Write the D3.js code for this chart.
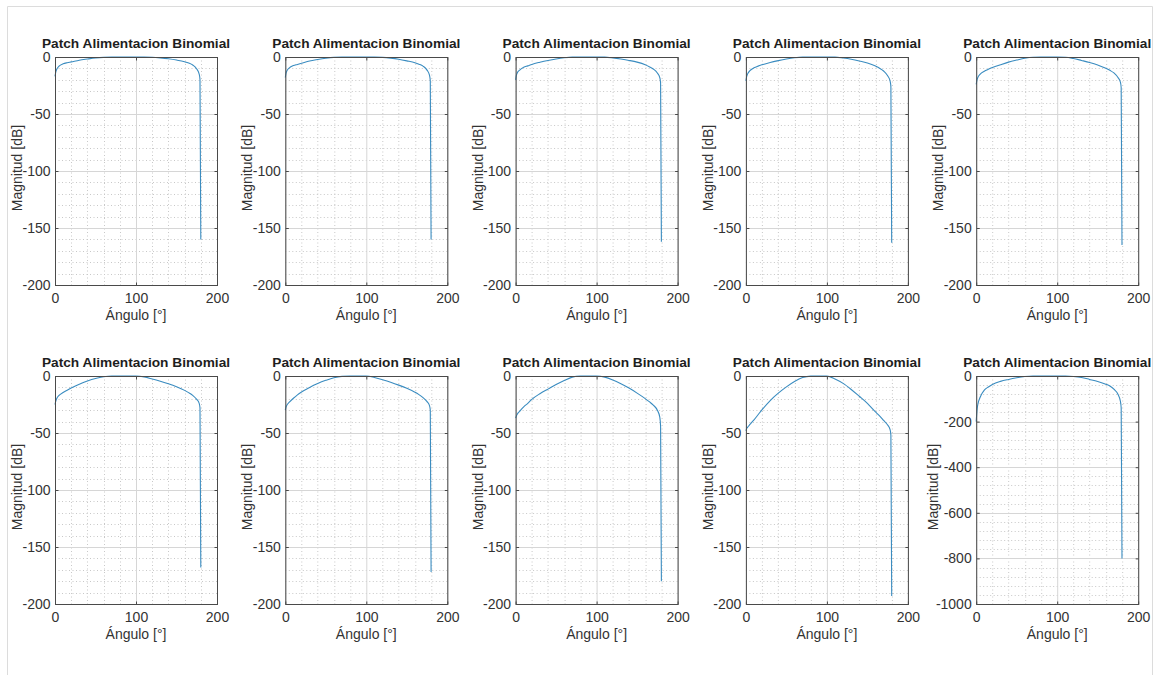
<!DOCTYPE html>
<html>
<head>
<meta charset="utf-8">
<script src="https://cdn.jsdelivr.net/npm/d3@7"></script>
<style>
  html, body { margin: 0; padding: 0; background: #ffffff; }
  svg { display: block; font-family: "Liberation Sans", Arial, Helvetica, sans-serif; }
</style>
</head>
<body>
<svg id="chart" width="1159" height="675"></svg>
<script>
// ---------------- data ----------------
const chartTitle = "Patch Alimentacion Binomial";
const xLabel = "Ángulo [°]";
const yLabel = "Magnitud [dB]";

const angulos = [0, 1, 2, 5, 10, 15, 20, 30, 40, 50, 60, 70, 80, 90, 100, 110, 120, 130, 140, 150, 160, 165, 170, 175, 178, 179, 180];

const panel1  = [-17, -13, -11, -8, -6, -5, -4.3, -2.8, -1.8, -0.9, -0.3, 0, 0, 0, 0, 0, -0.2, -0.8, -1.6, -2.7, -4.2, -5.3, -7, -10.5, -15, -20, -160];
const panel2  = [-18, -14, -12, -9.5, -7.5, -6.5, -5.5, -3.5, -2.2, -1.1, -0.3, 0, 0, 0, 0, 0, -0.3, -1, -2, -3.4, -5, -6.3, -8, -11.5, -16, -21, -160];
const panel3  = [-20, -16, -14, -11.5, -9, -7.8, -6.5, -4.6, -3, -1.7, -0.7, -0.1, 0, 0, 0, -0.1, -0.8, -1.8, -3, -4.5, -6.8, -8.5, -10.5, -14, -18, -23, -162];
const panel4  = [-21, -17, -15, -12, -9.5, -8, -6.8, -4.8, -3.2, -1.8, -0.7, -0.1, 0, 0, 0, -0.1, -0.9, -2, -3.5, -5.3, -8, -9.8, -12.3, -16.5, -21, -26, -163];
const panel5  = [-24, -20, -18, -15, -12.5, -10.8, -9.3, -6.8, -4.5, -2.7, -1.1, -0.2, 0, 0, 0, -0.2, -1.3, -3, -4.8, -7, -9.8, -11.7, -14, -18, -22, -27, -165];
const panel6  = [-25, -22, -20, -17, -14.5, -12.5, -10.6, -7.2, -4.4, -2.2, -0.7, 0, 0, 0, 0, -0.8, -2.6, -4.6, -6.8, -9.4, -12.6, -14.6, -17, -20.5, -24, -28, -168];
const panel7  = [-30, -27, -25.5, -23, -19.5, -16.5, -14, -10, -6.6, -3.8, -1.5, -0.3, 0, 0, 0, -1.3, -3.3, -5.5, -8, -10.8, -14.2, -16.3, -19, -22.5, -26, -30, -172];
const panel8  = [-37, -35, -33.5, -31, -27, -24, -20.5, -15.5, -11.5, -7.5, -4, -1, 0, 0, 0, -1, -3.5, -6.8, -10.6, -15, -19.8, -22.5, -25.5, -30, -36, -44, -180];
const panel9  = [-48, -46, -45, -42.5, -38.5, -34, -29.5, -21.5, -15, -9.5, -4.8, -1.4, -0.1, 0, -0.1, -2.6, -6.5, -11.8, -17.8, -24, -31.5, -35, -39, -43, -47, -52, -193];
const panel10 = [-200, -150, -125, -92, -62, -48, -37, -23.5, -15, -8, -2.5, 0, 0, 0, 0, 0, -2, -6.5, -15, -24, -36, -44, -58, -80, -110, -140, -800];

const panels = [panel1, panel2, panel3, panel4, panel5, panel6, panel7, panel8, panel9, panel10];

const xTicks = [0, 100, 200];
const yTicksDb = [-200, -150, -100, -50, 0];
const yTicksDbWide = [-1000, -800, -600, -400, -200, 0];
const yDomains = [[-200, 0], [-200, 0], [-200, 0], [-200, 0], [-200, 0],
                  [-200, 0], [-200, 0], [-200, 0], [-200, 0], [-1000, 0]];

// ---------------- layout ----------------
const svg = d3.select("#chart");
svg.append("rect").attr("width", 1159).attr("height", 675).attr("fill", "#ffffff");

// outer window frame
svg.append("path")
  .attr("d", "M7.5,675 L7.5,6.5 L1152.5,6.5 L1152.5,675")
  .attr("fill", "none").attr("stroke", "#dcdcdc").attr("stroke-width", 1);

const colLeft0 = 55, colStep = 230.3, plotW = 162;
const rowTops = [57, 376], plotH = 228;

const lineColor = "#3a8cc0";
const axisColor = "#4a4a4a";
const textColor = "#333333";
const fmt = d => String(d);

panels.forEach((vals, i) => {
  const row = Math.floor(i / 5), col = i % 5;
  const left = colLeft0 + col * colStep;
  const top = rowTops[row];
  const g = svg.append("g").attr("transform", `translate(${left},${top})`);

  const x = d3.scaleLinear().domain([0, 200]).range([0, plotW]);
  const y = d3.scaleLinear().domain(yDomains[i]).range([plotH, 0]);
  const yTickVals = yDomains[i][0] === -1000 ? yTicksDbWide : yTicksDb;
  const yMajorStep = yTickVals[1] - yTickVals[0];
  const yMinorStep = yMajorStep / 5;

  // minor grid
  const xMinor = d3.range(0, 200.001, 20).filter(v => v % 100 !== 0);
  const yMinor = d3.range(yDomains[i][0], 0.001, yMinorStep).filter(v => Math.abs(v % yMajorStep) > 1e-6);
  g.append("g").selectAll("line").data(xMinor).join("line")
    .attr("x1", d => Math.round(x(d)) + 0.5).attr("x2", d => Math.round(x(d)) + 0.5)
    .attr("y1", 0).attr("y2", plotH)
    .attr("stroke", "#c8c8c8").attr("stroke-width", 1).attr("stroke-dasharray", "1,2.5");
  g.append("g").selectAll("line").data(yMinor).join("line")
    .attr("y1", d => Math.round(y(d)) + 0.5).attr("y2", d => Math.round(y(d)) + 0.5)
    .attr("x1", 0).attr("x2", plotW)
    .attr("stroke", "#c8c8c8").attr("stroke-width", 1).attr("stroke-dasharray", "1,2.5");

  // major grid
  g.append("g").selectAll("line").data(xTicks).join("line")
    .attr("x1", d => Math.round(x(d)) + 0.5).attr("x2", d => Math.round(x(d)) + 0.5)
    .attr("y1", 0).attr("y2", plotH)
    .attr("stroke", "#d6d6d6").attr("stroke-width", 1);
  g.append("g").selectAll("line").data(yTickVals).join("line")
    .attr("y1", d => Math.round(y(d)) + 0.5).attr("y2", d => Math.round(y(d)) + 0.5)
    .attr("x1", 0).attr("x2", plotW)
    .attr("stroke", "#d6d6d6").attr("stroke-width", 1);

  // data line
  const pts = angulos.map((a, k) => [a, vals[k]]);
  const line = d3.line().x(d => x(d[0])).y(d => y(d[1])).curve(d3.curveMonotoneX);
  g.append("path").datum(pts)
    .attr("d", line)
    .attr("fill", "none").attr("stroke", lineColor).attr("stroke-width", 1.1);

  // axes box
  g.append("rect").attr("x", 0.5).attr("y", 0.5).attr("width", plotW).attr("height", plotH)
    .attr("fill", "none").attr("stroke", axisColor).attr("stroke-width", 1);

  // axes with inward ticks
  const styleAxis = sel => {
    sel.select(".domain").remove();
    sel.selectAll(".tick line").attr("stroke", axisColor);
    sel.selectAll(".tick text").attr("fill", textColor)
      .style("font-size", "14px").style("font-family", "'Liberation Sans', Arial, sans-serif");
  };
  g.append("g").attr("transform", `translate(0.5,0)`)
    .call(d3.axisLeft(y).tickValues(yTickVals).tickFormat(fmt).tickSizeInner(-3).tickSizeOuter(0).tickPadding(5))
    .call(styleAxis);
  g.append("g").attr("transform", `translate(${plotW + 0.5},0)`)
    .call(d3.axisRight(y).tickValues(yTickVals).tickSizeInner(-3).tickSizeOuter(0).tickFormat(""))
    .call(styleAxis);
  g.append("g").attr("transform", `translate(0,${plotH + 0.5})`)
    .call(d3.axisBottom(x).tickValues(xTicks).tickFormat(fmt).tickSizeInner(-3).tickSizeOuter(0).tickPadding(8))
    .call(styleAxis);
  g.append("g").attr("transform", `translate(0,0.5)`)
    .call(d3.axisTop(x).tickValues(xTicks).tickSizeInner(-3).tickSizeOuter(0).tickFormat(""))
    .call(styleAxis);

  // title
  g.append("text")
    .attr("x", plotW / 2).attr("y", -9)
    .attr("text-anchor", "middle")
    .attr("fill", "#1e1e1e")
    .style("font-size", "13.7px").style("font-weight", "bold")
    .text(chartTitle);

  // x label
  g.append("text")
    .attr("x", plotW / 2).attr("y", plotH + 35)
    .attr("text-anchor", "middle")
    .attr("fill", textColor)
    .style("font-size", "14px")
    .text(xLabel);

  // y label
  const yLabOff = yDomains[i][0] === -1000 ? 38 : 33;
  g.append("text")
    .attr("transform", `translate(${-yLabOff},${plotH / 2 - 3}) rotate(-90)`)
    .attr("text-anchor", "middle")
    .attr("fill", textColor)
    .style("font-size", "14px")
    .text(yLabel);
});
</script>
</body>
</html>
